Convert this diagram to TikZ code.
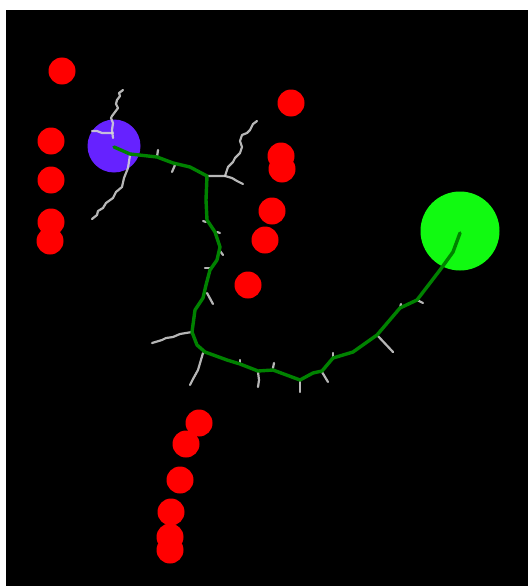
\documentclass[tikz,border=0pt]{standalone}
\begin{document}
\begin{tikzpicture}[x=1pt,y=-1pt,
  obstacle/.style={circle,fill=red,minimum size=27pt,inner sep=0pt},
  startzone/.style={circle,fill={rgb,255:red,102;green,34;blue,255},minimum size=53pt,inner sep=0pt},
  goalzone/.style={circle,fill={rgb,255:red,17;green,250;blue,17},minimum size=79pt,inner sep=0pt},
  branch/.style={draw={rgb,255:red,215;green,215;blue,215},draw opacity=0.85,line width=2.2pt,line join=round,line cap=round},
  route/.style={draw={rgb,255:red,0;green,130;blue,0},line width=3.4pt,line join=round,line cap=round}]
% canvas
\fill[white] (0,0) rectangle (528,586);
\fill[black] (6,10) rectangle (528,586);
\useasboundingbox (0,0) rectangle (528,586);
% obstacles
\foreach \n/\x/\y in {o1/62/71,o2/51/141,o3/51/180,o4/51/222,o5/50/241,
  o6/291/103,o7/281/156,o8/282/169,o9/272/211,o10/265/240,o11/248/285,
  o12/199/423,o13/186/444,o14/180/480,o15/171/512,o16/170/537,o17/170/550}
  \node[obstacle] (\n) at (\x,\y) {};
% start and goal regions
\node[startzone] (start) at (114,146) {};
\node[goalzone] (goal) at (460,231) {};
% explored tree branches
\draw[branch] (113,138) -- (112,130) -- (113,123) -- (111,118) -- (112,116) -- (118,108) -- (116,104) -- (117,100) -- (120,96) -- (119,93) -- (123,90);
\draw[branch] (113,133) -- (102,133) -- (97,131) -- (92,131);
\draw[branch] (130,155) -- (128,168) -- (124,178) -- (122,187) -- (116,192) -- (113,198) -- (106,203) -- (103,208) -- (98,211) -- (97,215) -- (92,219);
\draw[branch] (157,157) -- (158,150);
\draw[branch] (175,165) -- (172,172);
\draw[branch] (208,176) -- (225,176) -- (228,167) -- (233,162) -- (235,158) -- (240,153) -- (242,147) -- (240,141) -- (242,135) -- (247,133) -- (250,130) -- (253,124) -- (257,121);
\draw[branch] (225,176) -- (232,178) -- (237,181) -- (243,184);
\draw[branch] (206,222) -- (203,221);
\draw[branch] (217,232) -- (220,233);
\draw[branch] (220,251) -- (223,255);
\draw[branch] (210,268) -- (205,268);
\draw[branch] (207,293) -- (213,304);
\draw[branch] (192,332) -- (180,334) -- (173,337) -- (166,338) -- (162,340) -- (152,343);
\draw[branch] (203,353) -- (198,370) -- (193,379) -- (190,385);
\draw[branch] (240,363) -- (240,360);
\draw[branch] (258,372) -- (259,380) -- (258,387);
\draw[branch] (273,368) -- (274,363);
\draw[branch] (300,380) -- (300,392);
\draw[branch] (322,372) -- (328,382);
\draw[branch] (333,358) -- (333,353);
\draw[branch] (377,335) -- (393,352);
\draw[branch] (400,308) -- (401,304);
\draw[branch] (417,300) -- (423,303);
% solution path
\draw[route] (114,147) -- (130,154) -- (157,157) -- (173,163) -- (190,167) -- (207,176)
  -- (206,200) -- (207,220) -- (215,232) -- (220,247) -- (217,260) -- (210,270)
  -- (206,285) -- (203,298) -- (195,310) -- (192,332) -- (197,345) -- (205,352)
  -- (227,360) -- (240,364) -- (258,371) -- (273,370) -- (300,380) -- (313,373)
  -- (322,371) -- (333,358) -- (353,352) -- (377,335) -- (400,308) -- (417,300)
  -- (440,270) -- (453,252) -- (460,233);
\end{tikzpicture}
\end{document}
